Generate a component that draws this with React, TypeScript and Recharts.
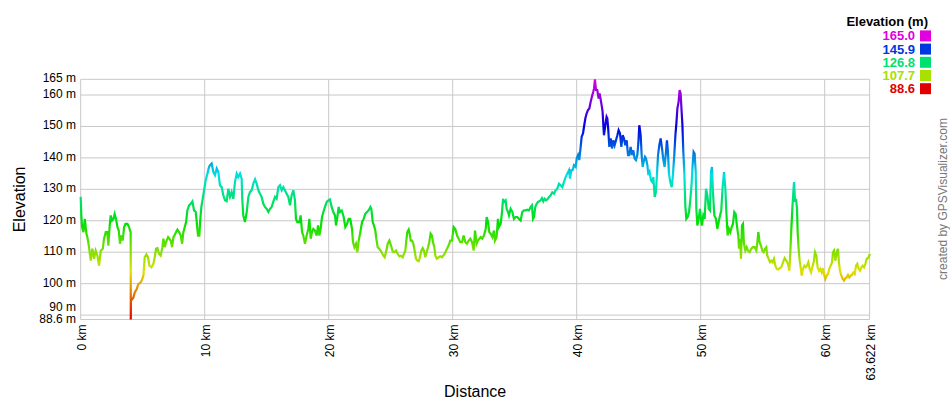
import React from 'react';
import { LineChart, Line, XAxis, YAxis, CartesianGrid } from 'recharts';

// ---- values ----
const xTicks = [0, 10, 20, 30, 40, 50, 60, 63.622];
const yTicks = [88.6, 90, 100, 110, 120, 130, 140, 150, 160, 165];
const legendValues = [165.0, 145.9, 126.8, 107.7, 88.6];
const ELEV_MIN = 88.6;
const ELEV_MAX = 165;
const TOTAL_KM = 63.622;

// [distance km, elevation m]
const section0to10: [number, number][] = [
  [0.0, 127.6], [0.05, 121.7], [0.11, 118.0], [0.22, 116.4], [0.33, 120.6], [0.46, 115.9], [0.54, 114.8],
  [0.67, 111.6], [0.81, 107.3], [0.94, 111.1], [1.08, 107.9], [1.21, 110.5], [1.35, 108.9], [1.48, 105.7],
  [1.62, 110.5], [1.78, 111.1], [1.88, 114.3], [2.02, 116.4], [2.15, 116.4], [2.23, 112.1], [2.34, 118.5],
  [2.42, 121.7], [2.53, 120.1], [2.64, 120.6], [2.74, 122.2], [2.85, 120.6], [2.96, 118.0], [3.07, 116.9],
  [3.17, 112.7], [3.28, 115.3], [3.39, 113.7], [3.5, 118.0], [3.61, 119.0], [3.77, 119.0], [3.9, 118.0],
  [3.98, 116.9], [4.03, 116.4], [4.04, 88.6], [4.05, 94.6], [4.12, 94.9], [4.25, 95.6], [4.36, 97.2],
  [4.52, 98.3], [4.65, 99.9], [4.79, 100.2], [4.92, 101.0], [5.06, 102.6], [5.16, 108.4], [5.3, 109.3],
  [5.43, 108.4], [5.54, 105.7], [5.7, 105.2], [5.86, 106.3], [5.97, 108.4], [6.08, 111.1], [6.18, 111.3],
  [6.32, 109.5], [6.45, 108.9], [6.59, 111.6], [6.67, 114.3], [6.78, 111.6], [6.88, 113.2], [7.05, 114.8],
  [7.15, 114.3], [7.26, 113.7], [7.37, 111.6], [7.48, 114.8], [7.58, 115.5], [7.69, 116.4], [7.8, 117.2],
  [7.93, 116.4], [8.07, 115.3], [8.18, 112.7], [8.28, 116.4], [8.39, 118.0], [8.5, 119.6], [8.6, 123.3],
  [8.74, 124.9], [8.87, 125.4], [9.01, 126.2], [9.14, 123.3], [9.28, 122.8], [9.36, 119.6], [9.46, 115.3],
  [9.57, 115.3], [9.63, 119.6], [9.73, 124.4], [9.84, 127.0], [9.95, 129.7], [10.08, 132.9], [10.22, 135.0],
  [10.35, 137.1],
];

const section10to21: [number, number][] = [
  [10.43, 137.7], [10.56, 138.2], [10.7, 135.5], [10.83, 134.5], [10.97, 136.6], [11.1, 135.5], [11.23, 131.3],
  [11.37, 130.7], [11.5, 128.1], [11.64, 126.5], [11.77, 126.2], [11.91, 130.2], [12.04, 127.6], [12.17, 129.1],
  [12.31, 127.0], [12.44, 132.3], [12.58, 135.0], [12.71, 133.9], [12.85, 135.0], [12.98, 133.4], [13.03, 127.0],
  [13.11, 121.7], [13.25, 119.6], [13.39, 122.8], [13.52, 127.6], [13.65, 129.1], [13.79, 129.7], [13.92, 131.8],
  [14.06, 133.2], [14.19, 131.8], [14.33, 129.7], [14.46, 128.6], [14.59, 127.6], [14.73, 125.4], [14.86, 124.4],
  [15.0, 123.8], [15.13, 122.8], [15.27, 123.8], [15.4, 124.4], [15.53, 126.0], [15.67, 127.6], [15.8, 127.0],
  [15.94, 130.7], [16.07, 131.3], [16.21, 129.7], [16.34, 130.7], [16.47, 129.7], [16.61, 128.6], [16.74, 127.6],
  [16.88, 124.9], [17.01, 128.1], [17.15, 129.7], [17.28, 126.5], [17.36, 120.6], [17.47, 119.6], [17.63, 119.6],
  [17.74, 121.7], [17.85, 116.4], [17.95, 115.3], [18.09, 112.7], [18.22, 115.3], [18.36, 117.4], [18.44, 120.6],
  [18.55, 114.3], [18.65, 116.4], [18.76, 117.4], [18.89, 116.9], [19.03, 115.3], [19.14, 118.5], [19.25, 115.3],
  [19.35, 117.4], [19.46, 121.2], [19.57, 122.8], [19.7, 124.4], [19.84, 126.0], [19.97, 126.5], [20.1, 126.8],
  [20.24, 124.4], [20.37, 122.8], [20.51, 121.7], [20.59, 118.5], [20.7, 121.2], [20.8, 124.4], [20.91, 122.8],
  [21.05, 123.3],
];

const section21to32: [number, number][] = [
  [21.21, 121.2], [21.34, 118.0], [21.48, 119.0], [21.61, 120.6], [21.74, 120.6], [21.88, 117.4], [21.96, 113.2],
  [22.07, 111.6], [22.2, 112.7], [22.31, 110.0], [22.42, 113.7], [22.55, 116.4], [22.69, 119.6], [22.82, 120.6],
  [22.95, 122.2], [23.09, 122.8], [23.22, 123.3], [23.36, 124.4], [23.44, 123.8], [23.55, 119.6], [23.65, 118.5],
  [23.76, 116.9], [23.84, 114.3], [23.95, 111.6], [24.08, 111.1], [24.24, 110.2], [24.41, 108.9], [24.51, 108.4],
  [24.65, 110.5], [24.76, 112.7], [24.89, 113.7], [25.03, 112.1], [25.16, 110.2], [25.29, 110.0], [25.43, 110.5],
  [25.56, 109.5], [25.7, 108.7], [25.83, 108.9], [25.97, 108.4], [26.07, 109.5], [26.18, 110.5], [26.26, 113.7],
  [26.34, 116.4], [26.45, 117.2], [26.53, 115.9], [26.61, 113.7], [26.72, 113.7], [26.83, 112.7], [26.93, 110.5],
  [27.04, 107.9], [27.15, 107.3], [27.26, 107.1], [27.36, 108.4], [27.47, 110.5], [27.58, 111.3], [27.68, 110.5],
  [27.79, 108.4], [27.9, 110.0], [28.01, 111.6], [28.11, 113.2], [28.22, 115.9], [28.33, 115.3], [28.41, 113.2],
  [28.52, 111.6], [28.6, 108.9], [28.73, 107.9], [28.87, 108.4], [29.0, 108.7], [29.14, 108.4], [29.27, 109.1],
  [29.41, 110.0], [29.54, 111.1], [29.67, 112.1], [29.81, 113.7], [29.94, 113.7], [30.08, 118.0], [30.21, 117.4],
  [30.35, 115.3], [30.48, 114.3], [30.61, 113.2], [30.75, 113.2], [30.88, 115.3], [31.02, 113.2], [31.15, 112.7],
  [31.29, 113.7], [31.42, 114.3], [31.56, 113.2], [31.69, 110.5],
];

const section32to42: [number, number][] = [
  [31.8, 116.9], [31.93, 112.7], [32.04, 113.7], [32.15, 114.3], [32.26, 114.8], [32.39, 114.3], [32.52, 115.3],
  [32.66, 117.4], [32.74, 121.2], [32.85, 119.6], [32.95, 116.4], [33.06, 115.9], [33.2, 114.8], [33.33, 116.9],
  [33.41, 113.7], [33.54, 114.8], [33.65, 120.6], [33.73, 118.0], [33.87, 119.0], [33.98, 122.8], [34.06, 127.0],
  [34.14, 126.0], [34.27, 126.5], [34.35, 123.8], [34.46, 122.8], [34.54, 121.7], [34.67, 123.8], [34.81, 122.8],
  [34.94, 120.6], [35.08, 121.2], [35.21, 121.2], [35.35, 120.6], [35.48, 120.1], [35.61, 122.8], [35.75, 123.3],
  [35.88, 123.3], [36.02, 123.5], [36.15, 123.3], [36.29, 124.4], [36.39, 124.9], [36.48, 120.6], [36.56, 121.2],
  [36.66, 124.4], [36.77, 125.4], [36.88, 126.0], [36.98, 126.2], [37.09, 126.5], [37.2, 127.2], [37.31, 126.2],
  [37.41, 127.0], [37.52, 126.5], [37.63, 126.8], [37.77, 127.6], [37.9, 128.1], [38.03, 129.1], [38.17, 128.6],
  [38.3, 129.7], [38.44, 130.2], [38.57, 131.8], [38.71, 131.3], [38.84, 130.7], [38.97, 132.3], [39.11, 133.9],
  [39.24, 135.0], [39.38, 136.1], [39.46, 133.4], [39.57, 136.1], [39.67, 136.1], [39.78, 137.7], [39.92, 137.1],
  [40.0, 139.8], [40.11, 140.9], [40.21, 139.3], [40.32, 143.5], [40.4, 146.7], [40.51, 147.8], [40.59, 149.9],
  [40.7, 152.6], [40.8, 154.1], [40.91, 155.2], [41.02, 155.7], [41.13, 157.9], [41.23, 159.5], [41.34, 161.1],
  [41.4, 162.1], [41.47, 165.0], [41.56, 161.6], [41.66, 161.6], [41.77, 158.9], [41.85, 160.5], [41.94, 158.4],
  [42.01, 156.8], [42.09, 154.7], [42.15, 150.4], [42.2, 147.2], [42.31, 150.4], [42.41, 153.1],
];

const section42to53: [number, number][] = [
  [42.47, 152.6], [42.55, 148.8], [42.63, 143.5], [42.74, 146.2], [42.85, 143.0], [42.95, 145.6], [43.06, 144.0],
  [43.17, 145.6], [43.28, 147.2], [43.38, 148.8], [43.49, 147.8], [43.6, 143.5], [43.71, 147.2], [43.81, 146.2],
  [43.92, 144.0], [44.03, 145.6], [44.14, 140.9], [44.24, 140.9], [44.35, 143.5], [44.46, 140.9], [44.57, 142.4],
  [44.67, 139.8], [44.78, 139.3], [44.89, 140.9], [44.97, 144.6], [45.05, 150.4], [45.16, 147.2], [45.24, 140.9],
  [45.32, 137.1], [45.4, 138.7], [45.51, 140.3], [45.59, 139.8], [45.7, 137.7], [45.78, 134.5], [45.88, 135.5],
  [45.99, 132.9], [46.1, 132.3], [46.18, 133.9], [46.29, 127.6], [46.39, 129.1], [46.47, 134.5], [46.56, 140.9],
  [46.66, 144.0], [46.77, 146.2], [46.88, 143.0], [46.99, 139.3], [47.09, 137.1], [47.2, 141.9], [47.28, 145.6],
  [47.36, 141.9], [47.44, 135.0], [47.55, 132.3], [47.66, 130.7], [47.76, 134.5], [47.87, 140.9], [47.96, 147.2],
  [48.04, 151.0], [48.12, 155.7], [48.22, 157.9], [48.3, 161.6], [48.38, 160.5], [48.44, 156.3], [48.52, 151.0],
  [48.6, 141.9], [48.68, 135.5], [48.76, 124.9], [48.84, 120.6], [48.95, 121.2], [49.06, 122.8], [49.16, 126.5],
  [49.27, 131.8], [49.35, 137.7], [49.43, 141.9], [49.51, 141.4], [49.6, 135.5], [49.65, 123.8], [49.73, 118.5],
  [49.84, 120.6], [49.94, 123.8], [50.02, 120.6], [50.1, 118.5], [50.21, 121.7], [50.32, 120.6], [50.43, 130.2],
  [50.54, 128.1], [50.65, 123.8], [50.75, 123.3], [50.83, 135.5], [50.91, 137.1], [50.99, 129.1], [51.1, 121.7],
  [51.23, 120.6], [51.34, 117.4], [51.45, 119.6], [51.56, 121.7], [51.66, 123.3], [51.77, 130.7], [51.88, 135.5],
  [51.99, 130.2], [52.07, 122.8], [52.17, 115.3], [52.28, 117.4], [52.39, 116.4], [52.5, 118.0], [52.6, 119.0],
  [52.71, 122.8], [52.82, 122.2], [52.92, 118.5], [53.03, 115.3],
];

const section53toEnd: [number, number][] = [
  [53.09, 111.1], [53.17, 114.3], [53.25, 107.9], [53.33, 118.5], [53.41, 119.0], [53.49, 112.7], [53.6, 110.5],
  [53.71, 111.6], [53.81, 110.5], [53.95, 110.0], [54.08, 111.1], [54.22, 111.6], [54.35, 111.6], [54.49, 110.5],
  [54.57, 113.2], [54.65, 116.4], [54.75, 113.2], [54.86, 112.1], [54.97, 110.5], [55.08, 110.0], [55.19, 111.1],
  [55.29, 111.6], [55.37, 108.9], [55.48, 107.9], [55.59, 106.8], [55.7, 107.3], [55.8, 106.8], [55.91, 107.9],
  [56.02, 105.7], [56.13, 104.7], [56.23, 104.5], [56.37, 104.9], [56.5, 105.2], [56.64, 106.8], [56.77, 108.1],
  [56.91, 107.3], [57.04, 106.3], [57.15, 104.1], [57.23, 110.0], [57.31, 117.4], [57.39, 123.8], [57.47, 129.1],
  [57.53, 132.3], [57.61, 126.0], [57.69, 127.0], [57.77, 123.8], [57.82, 116.4], [57.9, 111.1], [57.98, 107.3],
  [58.06, 105.2], [58.15, 102.6], [58.25, 104.7], [58.36, 105.7], [58.47, 105.2], [58.57, 105.7], [58.68, 106.8],
  [58.79, 104.7], [58.9, 103.6], [59.0, 105.2], [59.11, 106.8], [59.22, 110.0], [59.33, 108.9], [59.43, 105.2],
  [59.54, 104.1], [59.65, 104.7], [59.76, 103.6], [59.86, 104.9], [59.97, 102.6], [60.05, 101.5], [60.16, 102.6],
  [60.27, 103.1], [60.37, 104.7], [60.48, 105.7], [60.59, 106.8], [60.67, 110.0], [60.75, 110.5], [60.86, 107.3],
  [60.97, 110.0], [61.07, 111.1], [61.15, 106.8], [61.23, 104.1], [61.34, 102.6], [61.45, 101.5], [61.56, 101.0],
  [61.66, 101.7], [61.77, 102.0], [61.88, 102.8], [61.99, 102.0], [62.1, 102.6], [62.2, 102.8], [62.31, 103.6],
  [62.42, 103.1], [62.53, 105.7], [62.63, 106.3], [62.74, 104.7], [62.85, 104.1], [62.96, 105.2], [63.06, 105.7],
  [63.17, 105.2], [63.28, 106.3], [63.39, 107.9], [63.49, 108.1], [63.6, 108.9], [63.622, 109.5],
];

const sections = [section0to10, section10to21, section21to32, section32to42, section42to53, section53toEnd];
const profile = sections.flat().map(([km, elev]) => ({ km, elev }));

// ---- styling ----
const FONT = "Arial, 'Liberation Sans', Helvetica, sans-serif";
const GRID = '#c8c8c8';
const W = 950;
const H = 400;
const PLOT_LEFT = 80.7;
const PLOT_RIGHT = 80.4;
const PLOT_TOP = 79.3;
const PLOT_BOTTOM = 80.5;

const elevColor = (v: number) => {
  const hue = (300 * (v - ELEV_MIN)) / (ELEV_MAX - ELEV_MIN);
  return `hsl(${hue.toFixed(1)}, 100%, 44%)`;
};

const gradientStops = Array.from({ length: 21 }, (_, i) => i / 20);

const fmtKm = (v: number) => `${v} km`;
const fmtM = (v: number) => `${v} m`;

const XTick = (props: any) => {
  const { x, y, payload } = props;
  return (
    <text
      x={x}
      y={y}
      dy={5}
      transform={`rotate(-90, ${x}, ${y})`}
      textAnchor="end"
      fontFamily={FONT}
      fontSize={12}
      fill="#000"
    >
      {fmtKm(payload.value)}
    </text>
  );
};

const YTick = (props: any) => {
  const { x, y, payload } = props;
  const dy = payload.value === 90 ? -4 : 3;
  return (
    <text x={x} y={y} dy={dy} textAnchor="end" fontFamily={FONT} fontSize={12} fill="#000">
      {fmtM(payload.value)}
    </text>
  );
};

export default function App() {
  const legendTop = 35.7;
  const legendStep = 13.2;
  return (
    <div style={{ position: 'absolute', left: 0, top: 0, width: W, height: H, background: '#fff', fontFamily: FONT }}>
      <LineChart
        width={W}
        height={H}
        data={profile}
        margin={{ top: PLOT_TOP, right: PLOT_RIGHT, bottom: 0, left: 0 }}
      >
        <defs>
          <linearGradient id="elevGrad" x1="0" y1="0" x2="0" y2="1">
            {gradientStops.map((o) => (
              <stop key={o} offset={o} stopColor={elevColor(ELEV_MAX - o * (ELEV_MAX - ELEV_MIN))} />
            ))}
          </linearGradient>
        </defs>
        <CartesianGrid stroke={GRID} strokeWidth={1} />
        <XAxis
          dataKey="km"
          type="number"
          domain={[0, TOTAL_KM]}
          ticks={xTicks}
          interval={0}
          height={PLOT_BOTTOM}
          axisLine={false}
          tickLine={false}
          tickSize={0}
          tickMargin={5}
          tick={(p: any) => <XTick {...p} />}
          label={(p: any) => {
            const vb = p.viewBox || {};
            return (
              <text x={vb.x + vb.width / 2} y={397} textAnchor="middle" fontFamily={FONT} fontSize={16} fill="#000">
                Distance
              </text>
            );
          }}
        />
        <YAxis
          type="number"
          domain={[ELEV_MIN, ELEV_MAX]}
          ticks={yTicks}
          interval={0}
          width={PLOT_LEFT}
          axisLine={false}
          tickLine={false}
          tickSize={0}
          tickMargin={4.7}
          tick={(p: any) => <YTick {...p} />}
          label={(p: any) => {
            const vb = p.viewBox || {};
            const cy = vb.y + vb.height / 2;
            return (
              <text
                x={25}
                y={cy}
                transform={`rotate(-90, 25, ${cy})`}
                textAnchor="middle"
                fontFamily={FONT}
                fontSize={16}
                fill="#000"
              >
                Elevation
              </text>
            );
          }}
        />
        <Line
          type="linear"
          dataKey="elev"
          stroke="url(#elevGrad)"
          strokeWidth={2.2}
          dot={false}
          activeDot={false}
          isAnimationActive={false}
        />
      </LineChart>
      <svg
        width={W}
        height={H}
        style={{ position: 'absolute', left: 0, top: 0, pointerEvents: 'none' }}
      >
        <text x={928} y={26.4} textAnchor="end" fontFamily={FONT} fontSize={13} fontWeight="bold" fill="#000">
          Elevation (m)
        </text>
        {legendValues.map((v, i) => {
          const cy = legendTop + i * legendStep;
          const c = elevColor(v);
          return (
            <g key={v}>
              <text x={915} y={cy + 4.7} textAnchor="end" fontFamily={FONT} fontSize={13} fontWeight="bold" fill={c}>
                {v.toFixed(1)}
              </text>
              <rect x={920} y={cy - 5.3} width={11} height={11} fill={c} />
            </g>
          );
        })}
        <text
          x={947}
          y={199}
          transform={`rotate(-90, 947, 199)`}
          textAnchor="middle"
          fontFamily={FONT}
          fontSize={12}
          fill="#777"
        >
          created by GPSVisualizer.com
        </text>
      </svg>
    </div>
  );
}
